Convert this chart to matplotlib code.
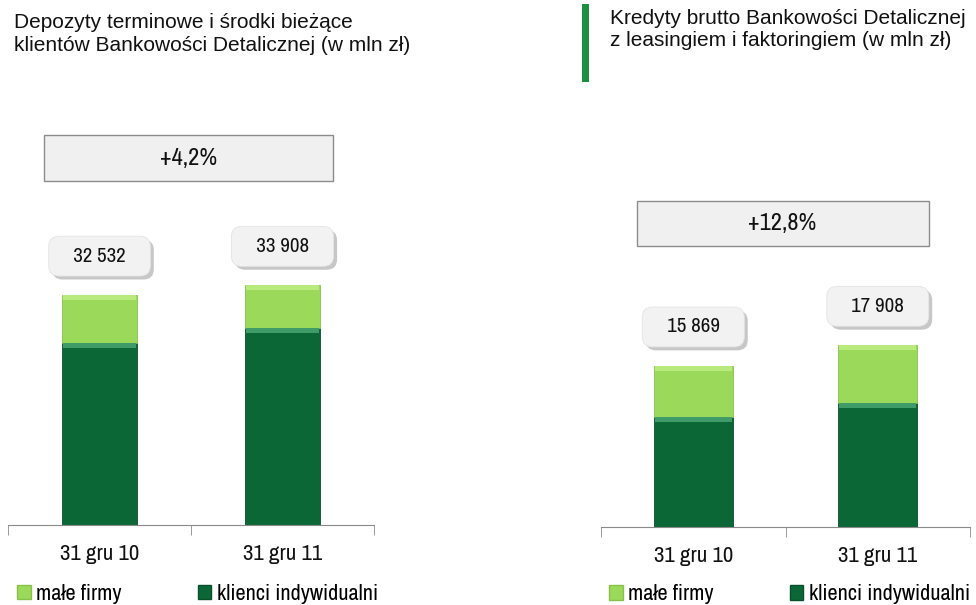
import matplotlib.pyplot as plt
from matplotlib.patches import Rectangle
import matplotlib.patheffects as pe

# dane
okresy = ['31 gru 10', '31 gru 11']
dep_indyw = [25740, 27860]      # klienci indywidualni - depozyty
dep_firmy = [6792, 6048]        # male firmy - depozyty
kred_indyw = [10840, 12220]     # klienci indywidualni - kredyty
kred_firmy = [5029, 5688]       # male firmy - kredyty

tytul_lewy = 'Depozyty terminowe i środki bieżące\nklientów Bankowości Detalicznej (w mln zł)'
tytul_prawy = 'Kredyty brutto Bankowości Detalicznej\nz leasingiem i faktoringiem (w mln zł)'

JASNY = '#9bd95a'
JASNY_GORA = '#b8ea7e'
CIEMNY = '#0b6836'
CIEMNY_GORA = '#3f9c68'
WASKI = ['Archivo Narrow', 'Liberation Sans', 'DejaVu Sans']

plt.rcParams['font.family'] = ['Liberation Sans', 'DejaVu Sans']

W, H = 976, 605
fig = plt.figure(figsize=(W / 100, H / 100), dpi=100)


def osie(x0, top, x1, bottom):
    return fig.add_axes([x0 / W, 1 - bottom / H, (x1 - x0) / W, (bottom - top) / H])


def wykres(ax, indyw, firmy, ymax, szer, box_y, leg_x, leg_y):
    x = list(range(len(okresy)))
    suma = [a + b for a, b in zip(indyw, firmy)]
    skos = ymax * 0.012
    ax.bar(x, indyw, szer, color=CIEMNY, edgecolor='#07502a', lw=0.6, zorder=2)
    ax.bar(x, firmy, szer, bottom=indyw, color=JASNY, edgecolor='#86c24a', lw=0.6, zorder=2)
    # jasne krawedzie (efekt fazowania)
    ax.bar(x, [skos] * 2, szer * 0.97, bottom=[v - skos for v in indyw], color=CIEMNY_GORA, lw=0, zorder=3)
    ax.bar(x, [skos] * 2, szer * 0.97, bottom=[v - skos for v in suma], color=JASNY_GORA, lw=0, zorder=3)
    ax.set_xlim(-0.5, 1.5)
    ax.set_ylim(0, ymax)
    for s in ['top', 'right', 'left']:
        ax.spines[s].set_visible(False)
    ax.spines['bottom'].set_color('#8a8a8a')
    ax.set_yticks([])
    ax.set_xticks(x)
    ax.set_xticklabels(okresy, family=WASKI, fontsize=16.5, color='#111111')
    ax.tick_params(axis='x', length=0, pad=14)
    ax.set_xticks([-0.5, 0.5, 1.5], minor=True)
    ax.tick_params(axis='x', which='minor', length=7, color='#8a8a8a', direction='out')

    for i, v in enumerate(suma):
        txt = '   ' + f'{v:,}'.replace(',', ' ') + '   '
        t = ax.annotate(txt, (i, v), xytext=(0, 28), textcoords='offset points', ha='center', va='center',
                        fontsize=15, family=WASKI, color='#111111', zorder=5,
                        bbox=dict(boxstyle='round,pad=0.5,rounding_size=0.5', fc='#f2f2f2', ec='#e4e4e4', lw=0.6))
        t.get_bbox_patch().set_path_effects([pe.SimplePatchShadow(offset=(2.5, -2.5), shadow_rgbFace='#9a9a9a', alpha=0.55),
                                             pe.Normal()])

    zmiana = (suma[1] / suma[0] - 1) * 100
    y0, y1 = box_y
    ax.add_patch(Rectangle((0.098, y0), 0.79, y1 - y0, transform=ax.transAxes,
                           fc='#f0f0f0', ec='#8c8c8c', lw=1, clip_on=False))
    ax.text(0.492, (y0 + y1) / 2, f'+{zmiana:.1f}%'.replace('.', ','), transform=ax.transAxes,
            ha='center', va='center', fontsize=17.5, family=WASKI, color='#111111')

    hj = Rectangle((0, 0), 1, 1, fc=JASNY, ec='#86c24a')
    hc = Rectangle((0, 0), 1, 1, fc=CIEMNY, ec='#07502a')
    ax.legend([hj, hc], ['małe firmy', 'klienci indywidualni'], ncol=2, frameon=False,
              loc='upper left', bbox_to_anchor=(leg_x, leg_y), handlelength=0.62, handleheight=0.62,
              handletextpad=0.25, columnspacing=3.4, borderaxespad=0, borderpad=0,
              prop={'family': WASKI, 'size': 16})


ax1 = osie(8, 130, 374, 525)
wykres(ax1, dep_indyw, dep_firmy, 55870, 0.415, (0.871, 0.987), 0.025, -0.149)

ax2 = osie(601, 130, 970, 527)
wykres(ax2, kred_indyw, kred_firmy, 39100, 0.43, (0.708, 0.821), 0.022, -0.144)

fig.text(14 / W, 1 - 13 / H, tytul_lewy, ha='left', va='top', fontsize=15, color='#111111', linespacing=1.28)
fig.text(610 / W, 1 - 9 / H, tytul_prawy, ha='left', va='top', fontsize=15, color='#111111', linespacing=1.17)
fig.add_artist(Rectangle((582 / W, 1 - 82 / H), 7 / W, 78 / H, transform=fig.transFigure, fc='#1a9040', ec='none'))

fig.savefig('out.png', dpi=100)
